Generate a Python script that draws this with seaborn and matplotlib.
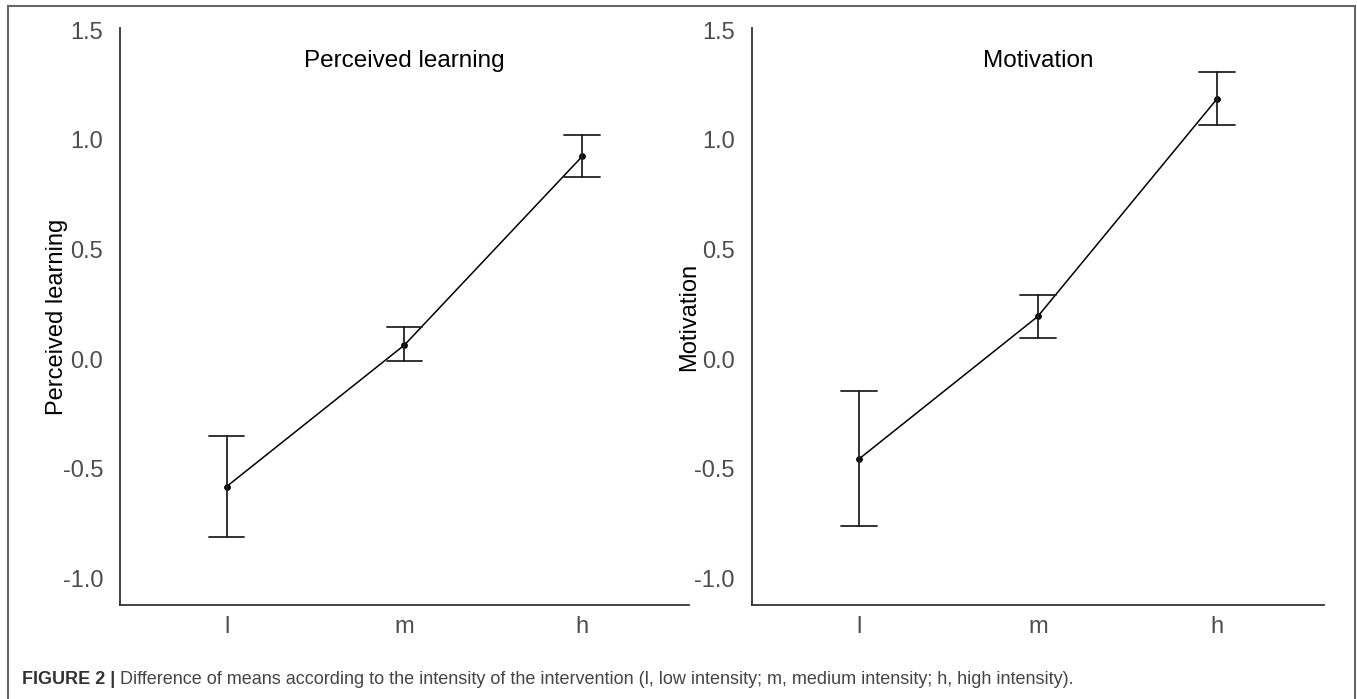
import numpy as np
import pandas as pd
import seaborn as sns
import matplotlib.pyplot as plt
from matplotlib.patches import Rectangle

# intensity groups and the estimated means with their interval ends
groups = ["l", "m", "h"]
learning_mean = [-0.58, 0.065, 0.925]
learning_low = [-0.81, -0.01, 0.83]
learning_high = [-0.35, 0.147, 1.023]
motivation_mean = [-0.455, 0.195, 1.185]
motivation_low = [-0.76, 0.097, 1.067]
motivation_high = [-0.145, 0.295, 1.31]
yticks = [-1.0, -0.5, 0.0, 0.5, 1.0, 1.5]

caption_bold = "FIGURE 2 |"
caption_text = (" Difference of means according to the intensity of the intervention "
                "(l, low intensity; m, medium intensity; h, high intensity).")


def long_table(low, mean, high):
    """three rows per group, so the median is the mean and min/max are the interval"""
    rows = []
    for g, a, b, c in zip(groups, low, mean, high):
        for v in (a, b, c):
            rows.append({"group": g, "value": v})
    return pd.DataFrame(rows)


def draw_panel(ax, df, title, ylabel):
    sns.pointplot(data=df, x="group", y="value", order=groups,
                  estimator="median", errorbar=("pi", 100), capsize=0.2,
                  color="black", markersize=4, linewidth=1.1,
                  err_kws={"linewidth": 1.3, "color": "#222222"}, ax=ax)
    ax.set_xlim(-0.6, 2.6)
    ax.set_ylim(-1.12, 1.51)
    ax.set_yticks(yticks)
    ax.set_yticklabels([f"{t:.1f}" for t in yticks])
    ax.set_xlabel("")
    ax.set_ylabel(ylabel, fontsize=17, color="black", labelpad=-4)
    ax.text(1, 1.36, title, ha="center", va="center", fontsize=17.5, color="black")
    sns.despine(ax=ax)
    for side in ("left", "bottom"):
        ax.spines[side].set_color("#333333")
        ax.spines[side].set_linewidth(1.3)
    ax.tick_params(axis="both", length=4, width=1, color="#333333",
                   labelcolor="#4d4d4d", labelsize=17)
    ax.tick_params(axis="y", pad=8)
    ax.tick_params(axis="x", pad=4)


sns.set_style("white")
plt.rcParams["font.family"] = ["Liberation Sans", "DejaVu Sans"]

fig = plt.figure(figsize=(13.57, 6.99), dpi=100)
ax1 = fig.add_axes([0.0884, 0.1345, 0.4193, 0.8255])
ax2 = fig.add_axes([0.5538, 0.1345, 0.4219, 0.8255])

draw_panel(ax1, long_table(learning_low, learning_mean, learning_high),
           "Perceived learning", "Perceived learning")
draw_panel(ax2, long_table(motivation_low, motivation_mean, motivation_high),
           "Motivation", "Motivation")

# frame around the figure, open at the bottom
fig.patches.append(Rectangle((8 / 1357, -0.05), 1347 / 1357, 1.05 - 6 / 699,
                             transform=fig.transFigure, fill=False,
                             edgecolor="#666666", linewidth=1.5))

t1 = fig.text(22 / 1357, 1 - 680 / 699, caption_bold, fontsize=13, fontweight="bold",
              color="#333333", va="center", ha="left")
ax1.annotate(caption_text, xy=(1, 0.5), xycoords=t1, va="center", ha="left",
             fontsize=13, color="#444444", annotation_clip=False)

plt.savefig("out.png", dpi=100, facecolor="white")
